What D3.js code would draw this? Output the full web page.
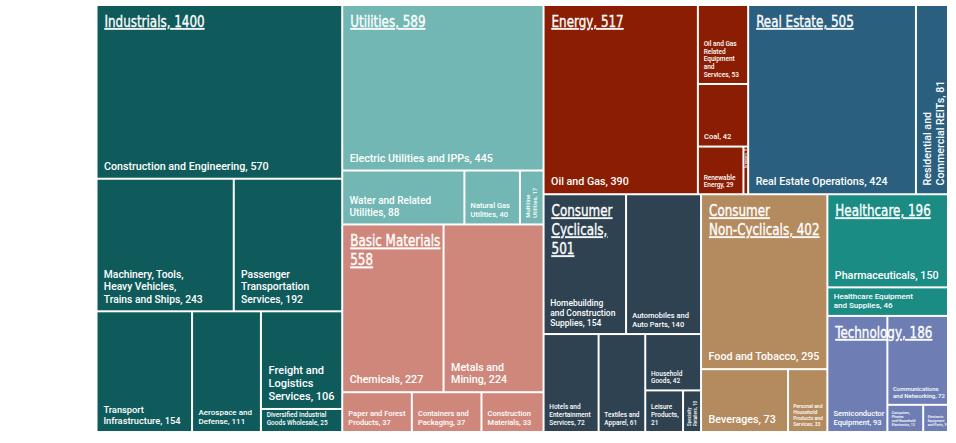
<!DOCTYPE html>
<html>
<head>
<meta charset="utf-8">
<script src="https://cdn.jsdelivr.net/npm/d3@7"></script>
<style>
	body {margin: 0; background: #fff;}
	svg {display: block;}
</style>
</head>
<body>
<svg id="chart" width="956" height="443"></svg>
<script>
(function() {
	'use strict';

	// Sectors, in drawing order, with the totals shown in their titles.
	var sectors = ['Industrials', 'Utilities', 'Basic Materials', 'Energy', 'Real Estate',
		'Consumer Cyclicals', 'Consumer Non-Cyclicals', 'Healthcare', 'Technology'];
	var sectorTotals = [1400, 589, 558, 517, 505, 501, 402, 196, 186];

	// Industries of each sector (same order as sectors).
	var industryNames = [
		['Construction and Engineering', 'Machinery, Tools, Heavy Vehicles, Trains and Ships',
			'Passenger Transportation Services', 'Transport Infrastructure', 'Aerospace and Defense',
			'Freight and Logistics Services', 'Diversified Industrial Goods Wholesale'],
		['Electric Utilities and IPPs', 'Water and Related Utilities', 'Natural Gas Utilities', 'Multiline Utilities'],
		['Chemicals', 'Metals and Mining', 'Paper and Forest Products', 'Containers and Packaging', 'Construction Materials'],
		['Oil and Gas', 'Oil and Gas Related Equipment and Services', 'Coal', 'Renewable Energy', 'Uranium'],
		['Real Estate Operations', 'Residential and Commercial REITs'],
		['Homebuilding and Construction Supplies', 'Automobiles and Auto Parts', 'Hotels and Entertainment Services',
			'Textiles and Apparel', 'Household Goods', 'Leisure Products', 'Specialty Retailers'],
		['Food and Tobacco', 'Beverages', 'Personal and Household Products and Services'],
		['Pharmaceuticals', 'Healthcare Equipment and Supplies'],
		['Semiconductor Equipment', 'Communications and Networking',
			'Computers, Phones and Household Electronics', 'Electronic Equipment and Parts']
	];
	var industryValues = [
		[570, 243, 192, 154, 111, 106, 25],
		[445, 88, 40, 17],
		[227, 224, 37, 37, 33],
		[390, 53, 42, 29, 3],
		[424, 81],
		[154, 140, 72, 61, 42, 21, 10],
		[295, 73, 33],
		[150, 46],
		[93, 72, 13, 9]
	];

	var colors = ['#0f5b5b', '#72b7b3', '#cf877b', '#8b1d02', '#2a5f7f',
		'#2e4251', '#b48a5f', '#1b8c84', '#6e7eb4'];

	// How the labels are broken into lines, and their font size.
	var titleLines = {
		'Basic Materials': ['Basic Materials', '558'],
		'Consumer Cyclicals': ['Consumer', 'Cyclicals,', '501'],
		'Consumer Non-Cyclicals': ['Consumer', 'Non-Cyclicals, 402']
	};
	var labelLines = {
		'Machinery, Tools, Heavy Vehicles, Trains and Ships': ['Machinery, Tools,', 'Heavy Vehicles,', 'Trains and Ships, 243'],
		'Passenger Transportation Services': ['Passenger', 'Transportation', 'Services, 192'],
		'Transport Infrastructure': ['Transport', 'Infrastructure, 154'],
		'Aerospace and Defense': ['Aerospace and', 'Defense, 111'],
		'Freight and Logistics Services': ['Freight and', 'Logistics', 'Services, 106'],
		'Diversified Industrial Goods Wholesale': ['Diversified Industrial', 'Goods Wholesale, 25'],
		'Water and Related Utilities': ['Water and Related', 'Utilities, 88'],
		'Natural Gas Utilities': ['Natural Gas', 'Utilities, 40'],
		'Multiline Utilities': ['Multiline', 'Utilities, 17'],
		'Metals and Mining': ['Metals and', 'Mining, 224'],
		'Paper and Forest Products': ['Paper and Forest', 'Products, 37'],
		'Containers and Packaging': ['Containers and', 'Packaging, 37'],
		'Construction Materials': ['Construction', 'Materials, 33'],
		'Oil and Gas Related Equipment and Services': ['Oil and Gas', 'Related', 'Equipment', 'and', 'Services, 53'],
		'Renewable Energy': ['Renewable', 'Energy, 29'],
		'Residential and Commercial REITs': ['Residential  and', 'Commercial REITs, 81'],
		'Homebuilding and Construction Supplies': ['Homebuilding', 'and Construction', 'Supplies, 154'],
		'Automobiles and Auto Parts': ['Automobiles and', 'Auto Parts, 140'],
		'Hotels and Entertainment Services': ['Hotels and', 'Entertainment', 'Services, 72'],
		'Textiles and Apparel': ['Textiles and', 'Apparel, 61'],
		'Household Goods': ['Household', 'Goods, 42'],
		'Leisure Products': ['Leisure', 'Products,', '21'],
		'Specialty Retailers': ['Specialty', 'Retailers, 10'],
		'Personal and Household Products and Services': ['Personal and', 'Household', 'Products and', 'Services, 33'],
		'Healthcare Equipment and Supplies': ['Healthcare Equipment', 'and Supplies, 46'],
		'Semiconductor Equipment': ['Semiconductor', 'Equipment, 93'],
		'Communications and Networking': ['Communications', 'and Networking, 72'],
		'Computers, Phones and Household Electronics': ['Computers,', 'Phones', 'and Household', 'Electronics, 13'],
		'Electronic Equipment and Parts': ['Electronic', 'Equipment', 'and Parts, 9']
	};
	var labelSize = {
		'Machinery, Tools, Heavy Vehicles, Trains and Ships': 10.3,
		'Passenger Transportation Services': 10.3,
		'Transport Infrastructure': 9.3,
		'Aerospace and Defense': 8,
		'Freight and Logistics Services': 11,
		'Diversified Industrial Goods Wholesale': 6.5,
		'Water and Related Utilities': 10,
		'Natural Gas Utilities': 7.5,
		'Multiline Utilities': 6,
		'Paper and Forest Products': 7.5,
		'Containers and Packaging': 7.5,
		'Construction Materials': 7.5,
		'Oil and Gas Related Equipment and Services': 6.5,
		'Coal': 7.5,
		'Renewable Energy': 6.5,
		'Uranium': 4,
		'Homebuilding and Construction Supplies': 8.5,
		'Automobiles and Auto Parts': 7.5,
		'Hotels and Entertainment Services': 6.5,
		'Textiles and Apparel': 6.5,
		'Household Goods': 6.5,
		'Leisure Products': 6.5,
		'Specialty Retailers': 4.5,
		'Personal and Household Products and Services': 5,
		'Healthcare Equipment and Supplies': 8,
		'Semiconductor Equipment': 7.5,
		'Communications and Networking': 6,
		'Computers, Phones and Household Electronics': 3.5,
		'Electronic Equipment and Parts': 3.5
	};
	// Turned-up labels that hang from the top of their tile instead of the bottom.
	var topAnchored = {'Uranium': true};

	var svg = d3.select('#chart'),
			x0 = 97.5, y0 = 6,
			width = 849.5, height = 425;

	// Squarify, but a row only takes one more tile when that clearly
	// improves its worst aspect ratio (the reference leaves near-ties alone).
	function squarify(parent, x0, y0, x1, y1) {
		var nodes = parent.children, n = nodes.length,
				value = parent.value, i0 = 0, i1 = 0;
		while (i0 < n) {
			var dx = x1 - x0, dy = y1 - y0,
					sum, min, max, alpha, beta, ratio, newRatio, v, s, mn, mx, row;
			sum = min = max = nodes[i1++].value;
			alpha = Math.max(dy / dx, dx / dy) / value;
			beta = sum * sum * alpha;
			ratio = Math.max(max / beta, beta / min);
			for (; i1 < n; ++i1) {
				v = nodes[i1].value;
				s = sum + v; mn = Math.min(min, v); mx = Math.max(max, v);
				beta = s * s * alpha;
				newRatio = Math.max(mx / beta, beta / mn);
				if (newRatio > ratio * 0.93) {break;}
				sum = s; min = mn; max = mx; ratio = newRatio;}
			row = {value: sum, children: nodes.slice(i0, i1)};
			if (dx < dy) {d3.treemapDice(row, x0, y0, x1, value ? y0 += dy * sum / value : y1);}
			else {d3.treemapSlice(row, x0, y0, value ? x0 += dx * sum / value : x1, y1);}
			value -= sum; i0 = i1;}
	}

	var root = d3.hierarchy({
		children: sectors.map(function(s, i) {
			return {
				name: s, total: sectorTotals[i], color: colors[i],
				children: industryNames[i].map(function(n, j) {
					return {name: n, value: industryValues[i][j]};})};})})
		.sum(function(d) {return d.value || 0;})
		.sort(function(a, b) {return b.value - a.value;});

	d3.treemap()
		.tile(squarify)
		.size([width, height])
		.paddingInner(2)(root);

	var plot = svg.append('g').attr('transform', 'translate(' + x0 + ',' + y0 + ')');

	plot.selectAll('.tile').data(root.leaves())
		.enter().append('rect').attr('class', 'tile')
		.attr('x', function(d) {return d.x0;})
		.attr('y', function(d) {return d.y0;})
		.attr('width', function(d) {return d.x1 - d.x0;})
		.attr('height', function(d) {return d.y1 - d.y0;})
		.attr('fill', function(d) {return d.parent.data.color;});

	// Industry labels sit in the bottom left corner; narrow tiles get them turned up.
	plot.selectAll('.label').data(root.leaves())
		.enter().append('text').attr('class', 'label')
		.each(function(d) {
			var w = d.x1 - d.x0, h = d.y1 - d.y0,
					name = d.data.name,
					size = labelSize[name] || 10.7,
					lines = labelLines[name] || [name + ', ' + d.data.value],
					lh = size * 1.2,
					padX = 2 + size * 0.42,
					padY = 3 + size * 0.45,
					vertical = w < 35 && h > w * 1.5,
					text = d3.select(this), tx;
			if (vertical) {
				tx = Math.min(d.x0 + padX + size * 0.75, d.x0 + w / 2 + size * 0.35);
				text.attr('transform', topAnchored[name]
					? 'translate(' + tx + ',' + (d.y0 + 1.5) + ')rotate(-90)'
					: 'translate(' + tx + ',' + (d.y1 - padY) + ')rotate(-90)')
					.attr('text-anchor', topAnchored[name] ? 'end' : 'start');
			} else {
				text.attr('transform', 'translate(' + (d.x0 + padX) + ',' + (d.y1 - padY - (lines.length - 1) * lh) + ')');
			}
			text.attr('fill', '#fff')
				.style('font-family', 'Roboto, sans-serif')
				.style('font-weight', 500)
				.style('font-size', size + 'px');
			lines.forEach(function(line, i) {
				text.append('tspan').attr('x', 0).attr('y', i * lh).text(line);});
		});

	// Sector titles on top of everything, in a narrow face.
	var groups = plot.selectAll('.sector').data(root.children)
		.enter().append('text').attr('class', 'sector')
		.attr('transform', function(d) {return 'translate(' + (d.x0 + 7) + ',' + (d.y0 + 21) + ')scale(0.83,1)';})
		.attr('fill', '#fff')
		.attr('stroke', '#fff')
		.attr('stroke-width', 0.35)
		.style('font-family', '"DejaVu Sans Condensed", sans-serif')
		.style('font-size', '16px')
		.style('text-decoration', 'underline');
	groups.each(function(d) {
		var lines = titleLines[d.data.name] || [d.data.name + ', ' + d.data.total];
		var t = d3.select(this);
		lines.forEach(function(line, i) {
			t.append('tspan').attr('x', 0).attr('y', i * 19).text(line);});
	});
})();
</script>
</body>
</html>
